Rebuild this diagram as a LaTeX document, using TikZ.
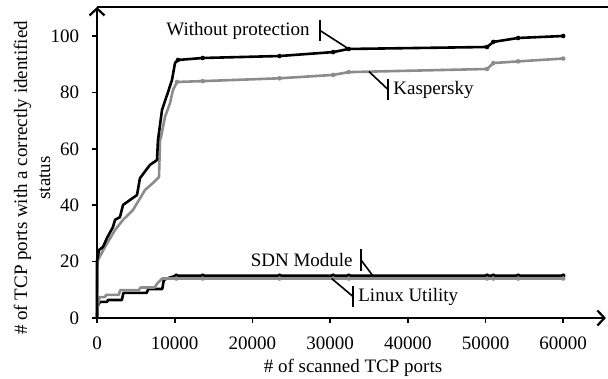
\documentclass[tikz,border=0pt]{standalone}
\usepackage{fontspec}
\setmainfont{Liberation Serif}
\usetikzlibrary{arrows.meta,positioning}

\definecolor{linegray}{RGB}{140,140,140}
\tikzset{every picture/.style={line width=0.75pt}}
\tikzset{
  axisline/.style={line width=2.2pt,{Straight Barb[length=7pt,width=15pt]}-{Straight Barb[length=7pt,width=15pt]}},
  tickmark/.style={line width=1.6pt},
  ticklabel/.style={inner sep=0pt,font=\fontsize{19}{23}\selectfont},
  curvelabel/.style={inner sep=0pt,font=\fontsize{19}{23}\selectfont},
  callout/.style={line width=1.6pt},
  blackline/.style={line width=2.6pt,line join=round,draw=black},
  grayline/.style={line width=2.6pt,line join=round,draw=linegray},
  blackdot/.style={fill=black},
  graydot/.style={fill=linegray}
}

\begin{document}
\begin{tikzpicture}[x=1pt,y=1pt]
\useasboundingbox (0,0) rectangle (608,378);

%Straight Lines (top border)
\draw [line width=2pt] (97,371) -- (608,371);

\begin{scope}[shift={(97,60)},x=7.77pt,y=2.82pt]
%Axes
\coordinate (origin) at (0,0);
\coordinate (ytip) at (0,110.3);
\coordinate (xtip) at (65.5,0);
\draw [axisline] (ytip) -- (origin) -- (xtip);
\foreach \yv in {0,20,...,100}
  \draw [tickmark] (0,\yv) -- ++(-5pt,0) node [ticklabel,anchor=east,xshift=-12pt] (ylab\yv) {\yv};
\foreach \xv/\xl in {0/0,10/10000,20/20000,30/30000,40/40000,50/50000,60/60000}
  \draw [tickmark] (\xv,0) -- ++(0,-5pt) node [ticklabel,anchor=north,yshift=-13pt] (xlab\xv) {\xl};

%SDN Module
\draw [blackline] plot coordinates {(0,0) (0.1,4.5) (0.4,5.7) (1.3,5.7) (1.4,6.4) (3.2,6.4) (3.4,8.9) (6.4,8.9) (6.6,10.3) (8.4,10.3) (8.6,13.5) (9.2,14.2) (10.2,15) (60,15)};
\foreach \xd in {10.2,13.6,23.5,30.4,32.4,50.2,51.0,54.2,60}
  \fill [blackdot] (\xd,15) circle (2.3pt);
%Linux Utility
\draw [grayline] plot coordinates {(0,0) (0.1,4) (0.3,7.4) (1.0,7.4) (1.2,8.2) (2.8,8.2) (3.0,9.9) (5.4,9.9) (5.6,10.8) (7.4,10.8) (7.8,12.4) (8.4,14) (60,14)};
\foreach \xd in {10.2,13.6,23.5,30.4,32.4,50.2,51.0,54.2,60}
  \fill [graydot] (\xd,14) circle (2.3pt);

%Kaspersky
\draw [grayline] plot coordinates {(0,0) (0.05,18) (0.13,20.6) (1.03,25.2) (2.32,31.2) (3.35,34.8) (4.63,38.3) (6.18,45.4) (7.21,47.9) (7.98,50) (8.11,63.1) (8.24,64.2) (8.75,71.3) (9.4,76.2) (9.78,80.9) (10.3,83.7) (13.6,84) (23.5,85) (30.4,86.2) (32.4,87.2) (50.2,88.3) (51.0,90.4) (54.2,91) (60,92)};
\foreach \xd/\yd in {10.3/83.7,13.6/84,23.5/85,30.4/86.2,32.4/87.2,50.2/88.3,51.0/90.4,54.2/91,60/92}
  \fill [graydot] (\xd,\yd) circle (2.3pt);

%Without protection
\draw [blackline] plot coordinates {(0,0) (0,20.2) (0.26,24.1) (0.77,25.2) (1.29,28.4) (2.06,32.3) (2.32,34.8) (2.96,35.8) (3.35,40.1) (4.63,42.6) (5.15,43.6) (5.53,49.6) (6.82,54.3) (7.72,56) (7.8,60.5) (7.85,63.1) (8.37,73.8) (9.14,80.1) (9.65,84.4) (10.04,90.4) (10.42,91.5) (13.6,92.2) (23.5,92.9) (30.4,94.3) (32.4,95.4) (50.2,96.1) (51.0,97.9) (54.2,99.3) (60,100)};
\foreach \xd/\yd in {10.42/91.5,13.6/92.2,23.5/92.9,30.4/94.3,32.4/95.4,50.2/96.1,51.0/97.9,54.2/99.3,60/100}
  \fill [blackdot] (\xd,\yd) circle (2.3pt);

%points hit by the callouts
\coordinate (wpdot) at (32.4,95.4);
\coordinate (kdot) at (35,87.4);
\coordinate (sdot) at (35.5,15);
\coordinate (ldot) at (30.2,14);
\end{scope}

%Callouts
\coordinate (wpbar) at (320,347.5);
\coordinate (kbar) at (388,288.5);
\coordinate (sbar) at (361,118);
\coordinate (lbar) at (353,81.5);
\foreach \bar in {wpbar,kbar,sbar,lbar}
  \draw [callout] ([yshift=-10.5pt]\bar) -- ([yshift=10.5pt]\bar);
\draw [callout] (wpbar) -- (wpdot);
\draw [callout] (kbar) -- (kdot);
\draw [callout] (sbar) -- (sdot);
\draw [callout] (lbar) -- (ldot);

% Text Node
\node [curvelabel,left=10pt of wpbar] (wptext) {Without protection};
% Text Node
\node [curvelabel,right=5pt of kbar] (ktext) {Kaspersky};
% Text Node
\node [curvelabel,left=8pt of sbar] (stext) {SDN Module};
% Text Node
\node [curvelabel,right=5pt of lbar] (ltext) {Linux Utility};

% Text Node
\node [curvelabel,anchor=base] (xtitle) at (353,6) {\# of scanned TCP ports};
% Text Node
\node [curvelabel,align=center,rotate=90] (ytitle) at (32,200) {\# of TCP ports with a correctly identified\\status};
\end{tikzpicture}
\end{document}
